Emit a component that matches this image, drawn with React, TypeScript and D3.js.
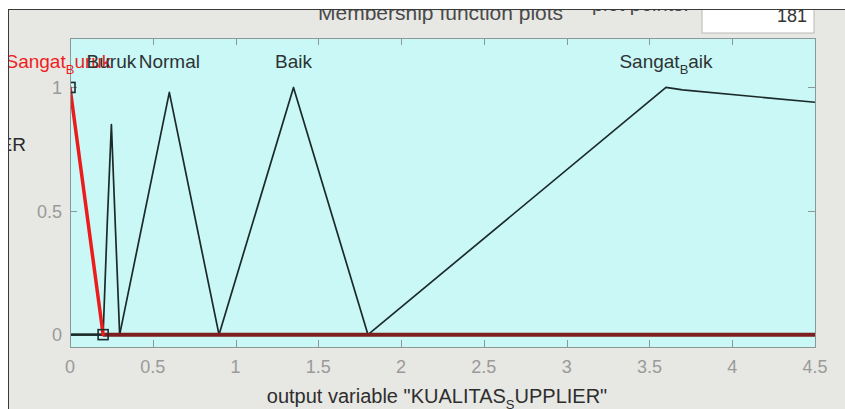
import React, { useEffect, useRef } from 'react';
import * as d3 from 'd3';

const width = 845;
const height = 409;
const frame = { left: 8, top: 9 };
const plot = { left: 70, right: 815, top: 38, bottom: 347 };

// axis ticks
const xTicks = [0, 0.5, 1, 1.5, 2, 2.5, 3, 3.5, 4, 4.5];
const yTicks = [0, 0.5, 1];

// membership functions (x in output units, y membership)
const mfNames = ['Sangat_Buruk', 'Buruk', 'Normal', 'Baik', 'Sangat_Baik'];
const sangatBurukX = [0, 0.2, 4.5];
const sangatBurukY = [1, 0, 0];
const burukX = [0, 0.2, 0.225, 0.25, 0.275, 0.3, 4.5];
const burukY = [0, 0, 0.45, 0.85, 0.42, 0, 0];
const normalX = [0, 0.3, 0.6, 0.9, 4.5];
const normalY = [0, 0, 0.98, 0, 0];
const baikX = [0, 0.9, 1.35, 1.8, 4.5];
const baikY = [0, 0, 1, 0, 0];
const sangatBaikX = [0, 1.8, 3.6, 3.7, 4.5];
const sangatBaikY = [0, 0, 1, 0.99, 0.94];
const labelX = [-0.07, 0.25, 0.6, 1.35, 3.6];

const selected = 0;
const xLabel = 'output variable "KUALITAS_SUPPLIER"';
const titleText = 'Membership function plots';
const pointsLabel = 'plot points:';
const pointsValue = '181';

const font = '"Liberation Sans", Arial, sans-serif';

// split a TeX-ish string: the char after "_" is a subscript
function texParts(s: string) {
  const parts: { t: string; sub: boolean }[] = [];
  let buf = '';
  for (let i = 0; i < s.length; i++) {
    if (s[i] === '_' && i + 1 < s.length) {
      if (buf) parts.push({ t: buf, sub: false });
      buf = '';
      parts.push({ t: s[i + 1], sub: true });
      i++;
    } else buf += s[i];
  }
  if (buf) parts.push({ t: buf, sub: false });
  return parts;
}

function addTex(sel: any, s: string, subSize: number, drop: number) {
  texParts(s).forEach((p, i, arr) => {
    const ts = sel.append('tspan').text(p.t);
    if (p.sub) ts.attr('font-size', subSize).attr('dy', drop);
    else if (i > 0 && arr[i - 1].sub) ts.attr('dy', -drop);
  });
}

export default function App() {
  const ref = useRef<SVGSVGElement>(null);

  useEffect(() => {
    const svg = d3.select(ref.current);
    svg.selectAll('*').remove();

    const xScale = d3.scaleLinear().domain([0, 4.5]).range([plot.left, plot.right]);
    const yScale = d3.scaleLinear().domain([-0.05, 1.2]).range([plot.bottom, plot.top]);

    const defs = svg.append('defs');
    defs.append('clipPath').attr('id', 'frameClip')
      .append('rect')
      .attr('x', frame.left).attr('y', frame.top)
      .attr('width', width - frame.left).attr('height', height - frame.top);
    defs.append('clipPath').attr('id', 'plotClip')
      .append('rect')
      .attr('x', plot.left).attr('y', plot.top)
      .attr('width', plot.right - plot.left).attr('height', plot.bottom - plot.top);

    svg.append('rect').attr('width', width).attr('height', height).attr('fill', '#ffffff');

    const panel = svg.append('g').attr('clip-path', 'url(#frameClip)');
    panel.append('rect')
      .attr('x', frame.left).attr('y', frame.top)
      .attr('width', width - frame.left).attr('height', height - frame.top)
      .attr('fill', '#e7e7e3');

    // header texts (top half hidden behind the frame)
    panel.append('text')
      .attr('x', 318).attr('y', 20)
      .attr('font-family', font).attr('font-size', 21).attr('fill', '#4a4a4a')
      .text(titleText);
    panel.append('text')
      .attr('x', 592).attr('y', 11)
      .attr('font-family', font).attr('font-size', 20).attr('fill', '#4a4a4a')
      .text(pointsLabel);
    panel.append('rect')
      .attr('x', 702).attr('y', 0).attr('width', 112).attr('height', 33)
      .attr('fill', '#ffffff').attr('stroke', '#b8b8b4');
    panel.append('text')
      .attr('x', 807).attr('y', 22).attr('text-anchor', 'end')
      .attr('font-family', font).attr('font-size', 18).attr('fill', '#333')
      .text(pointsValue);

    panel.append('text')
      .attr('x', 26).attr('y', 151).attr('text-anchor', 'end')
      .attr('font-family', font).attr('font-size', 19).attr('fill', '#2a2a2a')
      .text('ER');

    // axes background
    panel.append('rect')
      .attr('x', plot.left).attr('y', plot.top)
      .attr('width', plot.right - plot.left).attr('height', plot.bottom - plot.top)
      .attr('fill', '#c9f8f7');

    // ticks inside the box
    const tickG = panel.append('g').attr('stroke', '#8a9898').attr('stroke-width', 1);
    xTicks.forEach(t => {
      const x = Math.round(xScale(t)) + 0.5;
      tickG.append('line').attr('x1', x).attr('x2', x).attr('y1', plot.bottom).attr('y2', plot.bottom - 7);
      tickG.append('line').attr('x1', x).attr('x2', x).attr('y1', plot.top).attr('y2', plot.top + 7);
    });
    yTicks.forEach(t => {
      const y = Math.round(yScale(t)) + 0.5;
      tickG.append('line').attr('x1', plot.left).attr('x2', plot.left + 7).attr('y1', y).attr('y2', y);
      tickG.append('line').attr('x1', plot.right).attr('x2', plot.right - 7).attr('y1', y).attr('y2', y);
    });

    // membership function lines
    const mfX = [sangatBurukX, burukX, normalX, baikX, sangatBaikX];
    const mfY = [sangatBurukY, burukY, normalY, baikY, sangatBaikY];
    const line = d3.line<number>()
      .x(d => xScale(d[0]))
      .y(d => yScale(d[1]));
    const lines = panel.append('g').attr('clip-path', 'url(#plotClip)');

    mfX.forEach((xs, i) => {
      if (i === selected) return;
      const pts = xs.map((x, j) => [x, mfY[i][j]]);
      lines.append('path')
        .attr('d', line(pts as any))
        .attr('fill', 'none')
        .attr('stroke', '#1c2a2a')
        .attr('stroke-width', 1.7)
        .attr('stroke-linejoin', 'round');
    });

    // selected function: red, zero part overlaps the others (dark red)
    const selPts = mfX[selected].map((x, j) => [x, mfY[selected][j]]);
    const firstZero = mfY[selected].indexOf(0);
    lines.append('path')
      .attr('d', line(selPts.slice(firstZero) as any))
      .attr('fill', 'none')
      .attr('stroke', '#7e1e1e')
      .attr('stroke-width', 4);
    lines.append('path')
      .attr('d', line(selPts.slice(0, firstZero + 1) as any))
      .attr('fill', 'none')
      .attr('stroke', '#ec1c1c')
      .attr('stroke-width', 3.5)
      .attr('stroke-linecap', 'round');
    selPts.slice(0, firstZero + 1).forEach(p => {
      lines.append('rect')
        .attr('x', xScale(p[0]) - 5).attr('y', yScale(p[1]) - 5)
        .attr('width', 10).attr('height', 10)
        .attr('fill', 'none').attr('stroke', '#1c2a2a').attr('stroke-width', 1.6);
    });

    // box outline
    panel.append('rect')
      .attr('x', plot.left + 0.5).attr('y', plot.top + 0.5)
      .attr('width', plot.right - plot.left).attr('height', plot.bottom - plot.top)
      .attr('fill', 'none').attr('stroke', '#8a9898');

    // mf labels
    mfNames.forEach((name, i) => {
      const t = panel.append('text')
        .attr('x', xScale(labelX[i])).attr('y', 68)
        .attr('text-anchor', 'middle')
        .attr('font-family', font).attr('font-size', 19)
        .attr('fill', i === selected ? '#f01e1e' : '#2e3434');
      addTex(t, name, 13, 6);
    });

    // tick labels
    xTicks.forEach(t => {
      panel.append('text')
        .attr('x', xScale(t)).attr('y', 373)
        .attr('text-anchor', 'middle')
        .attr('font-family', font).attr('font-size', 18).attr('fill', '#9a9a9a')
        .text(String(t));
    });
    yTicks.forEach(t => {
      panel.append('text')
        .attr('x', 62).attr('y', yScale(t) + 6.5)
        .attr('text-anchor', 'end')
        .attr('font-family', font).attr('font-size', 18).attr('fill', '#9a9a9a')
        .text(String(t));
    });

    // x axis label
    const xl = panel.append('text')
      .attr('x', 437).attr('y', 403)
      .attr('text-anchor', 'middle')
      .attr('font-family', font).attr('font-size', 20).attr('fill', '#2e2e2e');
    addTex(xl, xLabel, 13, 6);

    // frame lines
    svg.append('line')
      .attr('x1', frame.left).attr('x2', width).attr('y1', frame.top + 0.5).attr('y2', frame.top + 0.5)
      .attr('stroke', '#3a3a3a');
    svg.append('line')
      .attr('x1', frame.left + 0.5).attr('x2', frame.left + 0.5).attr('y1', frame.top).attr('y2', height)
      .attr('stroke', '#3a3a3a');
  }, []);

  return (
    <div style={{ position: 'absolute', left: 0, top: 0 }}>
      <svg ref={ref} width={width} height={height} style={{ display: 'block' }}></svg>
    </div>
  );
}
